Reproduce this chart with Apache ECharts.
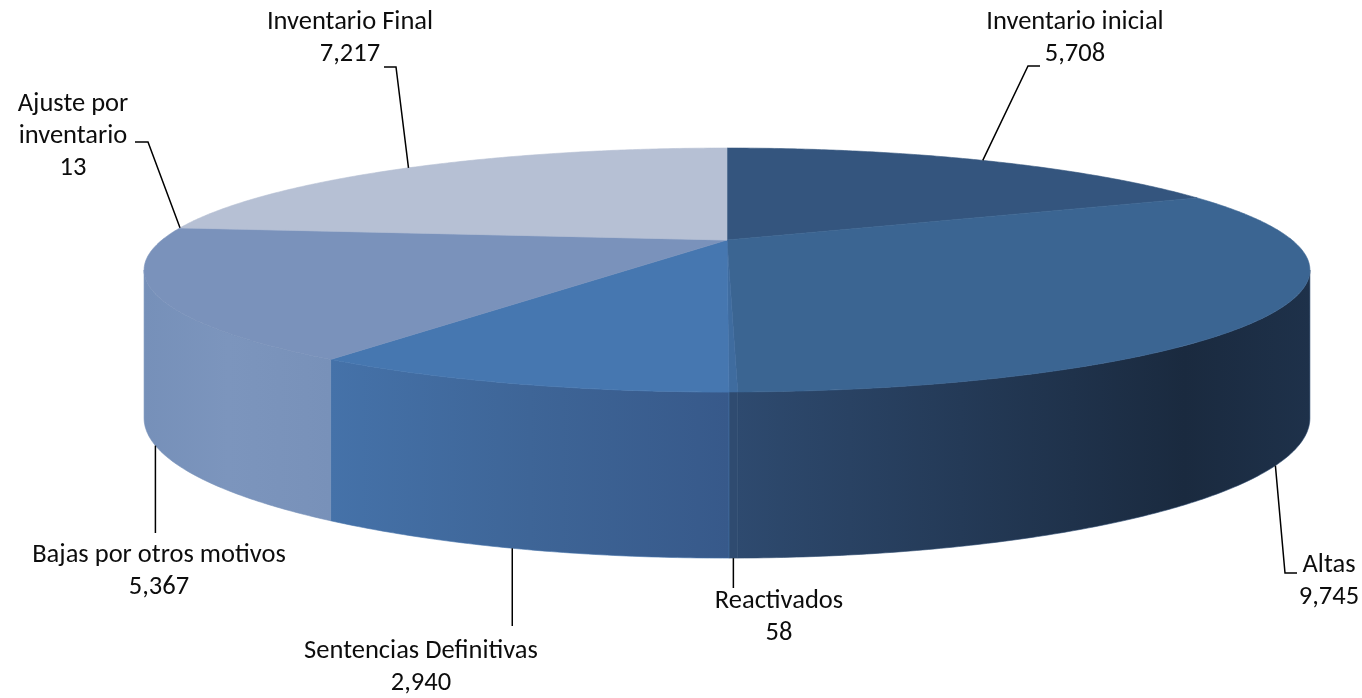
<!DOCTYPE html>
<html>
<head>
<meta charset="utf-8">
<script src="https://cdn.jsdelivr.net/npm/echarts@6/dist/echarts.min.js"></script>
<style>
html,body{margin:0;padding:0;background:#ffffff;}
#chart{width:1362px;height:698px;}
</style>
</head>
<body>
<div id="chart"></div>
<script>
// ---- data ----
const categories = ['Inventario inicial', 'Altas', 'Reactivados', 'Sentencias Definitivas', 'Bajas por otros motivos', 'Ajuste por inventario', 'Inventario Final'];
const values = [5708, 9745, 58, 2940, 5367, 13, 7217];
const labelNames = ['Inventario inicial', 'Altas', 'Reactivados', 'Sentencias Definitivas', 'Bajas por otros motivos', 'Ajuste por\ninventario', 'Inventario Final'];

// ---- styles ----
const topColors = ['#34557e', '#3b6592', '#3f6c9f', '#4677b0', '#7a92bb', '#96a8ca', '#b6c0d4'];
const sideStops = [
  [[0, '#2a4468'], [1, '#22385a']],
  [[0, '#2e4a6f'], [0.78, '#1a2a3f'], [1, '#1e314a']],
  [[0, '#2f4b70'], [1, '#2f4b70']],
  [[0, '#4572a9'], [0.5, '#3e6597'], [1, '#37598a']],
  [[0, '#7690b9'], [0.45, '#7c95bd'], [1, '#7891b9']],
  [[0, '#8fa2c5'], [1, '#8fa2c5']],
  [[0, '#aab5cc'], [1, '#aab5cc']]
];
// ---- layout (label boxes and leader elbows) ----
const labelLayout = [
  {x: 1075, y: 38, pts: [[1028, 66], [1040, 66]]},
  {x: 1329, y: 581, pts: [[1285, 573], [1297, 573]]},
  {x: 779, y: 617, vert: 588},
  {x: 421, y: 667, vert: 626},
  {x: 159, y: 571, vert: 533},
  {x: 73, y: 136, pts: [[148, 142], [135, 142]]},
  {x: 350, y: 38, pts: [[396, 67], [384, 67]]}
];
const FONT_FAMILY = 'Carlito, Calibri, "Open Sans", sans-serif';
const FONT_SIZE = 26.5;
const LINE_H = 32;

// perspective pie geometry
const CX = 727, CY = 240, RA = 565, RB = 114.6, K = 0.246;
const THETA_R = Math.acos(-K) * 180 / Math.PI;
const THETA_L = 360 - THETA_R;

function proj(theta) {
  const t = theta * Math.PI / 180;
  const u = Math.sin(t), v = -Math.cos(t);
  const w = 1 - K * v;
  return {x: CX + RA * u / w, y: CY + RB * v / w, w: w};
}
function depthAt(p) { return 75 + 68.7 / p.w; }
function arc(a, b) {
  const pts = [];
  const n = Math.max(2, Math.ceil((b - a) / 0.5));
  for (let s = 0; s <= n; s++) pts.push(proj(a + (b - a) * s / n));
  return pts;
}
const total = values.reduce((s, v) => s + v, 0);
const fmt = new Intl.NumberFormat('en-US');

function renderItem(params, api) {
  const i = params.dataIndex;
  const val = api.value(0);
  let cum = 0;
  for (let j = 0; j < i; j++) cum += values[j];
  const a = cum / total * 360;
  const b = (cum + val) / total * 360;
  const children = [];

  // side wall (front, visible part only)
  const s = Math.max(a, THETA_R), e = Math.min(b, THETA_L);
  if (s < e) {
    const topArc = arc(s, e);
    const pts = topArc.map(p => [p.x, p.y]);
    for (let k = topArc.length - 1; k >= 0; k--) {
      const p = topArc[k];
      pts.push([p.x, p.y + depthAt(p)]);
    }
    children.push({
      type: 'polygon', z2: 1,
      shape: {points: pts},
      style: {
        fill: {type: 'linear', x: 0, y: 0, x2: 1, y2: 0,
               colorStops: sideStops[i].map(c => ({offset: c[0], color: c[1]}))},
        stroke: sideStops[i][0][1], lineWidth: 0.6
      }
    });
  }
  // top face
  const tpts = [[CX, CY]].concat(arc(a, b).map(p => [p.x, p.y]));
  children.push({
    type: 'polygon', z2: 2,
    shape: {points: tpts},
    style: {fill: topColors[i], stroke: topColors[i], lineWidth: 0.6}
  });

  // label anchor at mid angle
  const m = (a + b) / 2;
  const pm = proj(m);
  const front = (m > THETA_R && m < THETA_L);
  const anchor = front ? [pm.x, pm.y + depthAt(pm)] : [pm.x, pm.y];
  const L = labelLayout[i];
  let lpts;
  if (L.vert !== undefined) lpts = [anchor, [anchor[0], L.vert]];
  else lpts = [anchor].concat(L.pts);
  children.push({
    type: 'polyline', z2: 5,
    shape: {points: lpts},
    style: {stroke: '#000000', lineWidth: 1.5, fill: null}
  });
  children.push({
    type: 'text', z2: 6,
    style: {
      text: labelNames[i] + '\n' + fmt.format(val),
      x: L.x, y: L.y,
      align: 'center', verticalAlign: 'middle',
      fontFamily: FONT_FAMILY, fontSize: FONT_SIZE,
      lineHeight: LINE_H, fill: '#0d0d0d'
    }
  });
  return {type: 'group', children: children};
}

const chart = echarts.init(document.getElementById('chart'), null, {renderer: 'canvas'});
chart.setOption({
  backgroundColor: '#ffffff',
  animation: false,
  series: [{
    type: 'custom',
    coordinateSystem: 'none',
    renderItem: renderItem,
    data: values.map((v, i) => ({name: categories[i], value: [v]}))
  }]
});
</script>
</body>
</html>
